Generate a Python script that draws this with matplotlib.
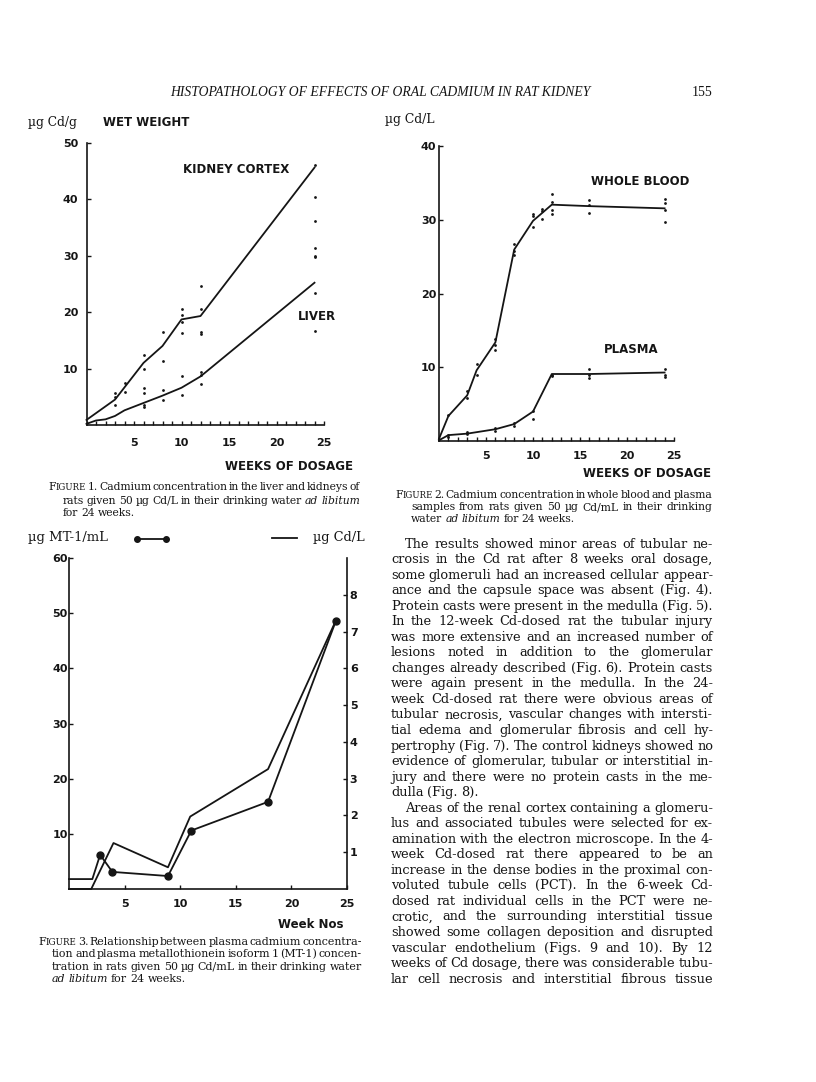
#!/usr/bin/env python3
import matplotlib
matplotlib.use("Agg")
import matplotlib.pyplot as plt
from matplotlib.lines import Line2D
from matplotlib.ticker import MultipleLocator

W, H = 816, 1082
SERIF = "DejaVu Serif"
SANS = "DejaVu Sans"
INK = "#151515"

# ---- Figure 1: Cd in kidney cortex and liver (ug Cd/g wet weight)
kidney_weeks = [0, 3, 6, 8, 10, 12, 24]
kidney_line = [0.9, 4.5, 11.0, 14.0, 18.7, 19.3, 45.6]
liver_weeks = [0, 1, 2, 3, 4, 6, 8, 10, 12, 24]
liver_line = [0.2, 0.8, 1.0, 1.6, 2.6, 3.9, 5.2, 6.6, 8.6, 25.2]
kidney_pt_weeks = [3, 3, 4, 4, 6, 6, 8, 8, 10, 10, 10, 10, 12, 12, 12, 12,
                   24, 24, 24, 24, 24, 24]
kidney_pt_vals = [5.6, 5.0, 7.4, 5.9, 12.4, 10.0, 16.5, 11.3, 20.6, 19.5, 18.3, 16.3,
                  24.6, 20.6, 16.5, 16.2, 46.1, 40.4, 36.1, 31.3, 30.0, 29.8]
liver_pt_weeks = [3, 6, 6, 6, 6, 8, 8, 10, 10, 12, 12, 12, 24, 24]
liver_pt_vals = [3.5, 6.5, 5.6, 3.5, 3.2, 6.2, 4.4, 8.7, 5.3, 9.4, 8.8, 7.3, 23.3, 16.7]

# ---- Figure 2: Cd in whole blood and plasma (ug Cd/L)
blood_weeks = [0, 1, 3, 4, 6, 8, 10, 11, 12, 16, 24]
blood_line = [0.3, 3.4, 6.2, 9.6, 13.4, 26.0, 29.9, 31.0, 32.1, 31.9, 31.6]
blood_pt_weeks = [1, 3, 3, 4, 4, 6, 6, 6, 8, 8, 8, 10, 10, 10, 11, 11, 11,
                  12, 12, 12, 12, 16, 16, 16, 24, 24, 24, 24]
blood_pt_vals = [3.5, 6.8, 5.9, 10.4, 9.0, 13.9, 13.1, 12.3, 26.8, 25.8, 25.3,
                 30.8, 30.5, 29.1, 31.5, 31.2, 30.2, 33.6, 32.4, 31.4, 30.8,
                 32.7, 32.1, 31.0, 32.9, 32.3, 31.4, 29.8]
plasma_weeks = [0, 1, 3, 6, 8, 10, 12, 16, 24]
plasma_line = [0.1, 0.8, 1.0, 1.6, 2.3, 4.0, 9.1, 9.1, 9.3]
plasma_pt_weeks = [1, 1, 3, 3, 6, 6, 8, 8, 10, 10, 12, 12, 16, 16, 16, 24, 24, 24]
plasma_pt_vals = [0.8, 0.6, 1.2, 0.9, 1.8, 1.4, 2.5, 2.1, 4.1, 3.0, 9.0, 8.8,
                  9.8, 9.0, 8.6, 9.8, 9.0, 8.7]

# ---- Figure 3: plasma MT-1 (ug/mL, left) and plasma Cd (ug/L, right)
mt_weeks = [0, 2.1, 2.8, 3.9, 8.9, 11.0, 17.9, 24.0]
mt_vals = [1.8, 1.8, 6.2, 3.1, 2.35, 10.6, 15.8, 48.6]
cd_weeks = [0, 2.0, 4.0, 8.9, 10.9, 17.9, 24.0]
cd_vals = [0, 0, 1.25, 0.59, 1.97, 3.26, 7.3]

fig1_xticks = [5, 10, 15, 20, 25]
fig1_yticks = [10, 20, 30, 40, 50]
fig2_yticks = [10, 20, 30, 40]
fig3_xticks = [5, 10, 15, 20, 25]
fig3_left_ticks = [10, 20, 30, 40, 50, 60]
fig3_right_ticks = [1, 2, 3, 4, 5, 6, 7, 8]

header = "HISTOPATHOLOGY OF EFFECTS OF ORAL CADMIUM IN RAT KIDNEY"
page_no = "155"

cap1 = ["^FIGURE 1. Cadmium concentration in the liver and kidneys of",
        "rats given 50 µg Cd/L in their drinking water *ad* *libitum*",
        "for 24 weeks."]
cap2 = ["^FIGURE 2. Cadmium concentration in whole blood and plasma",
        "samples from rats given 50 µg Cd/mL in their drinking",
        "water *ad* *libitum* for 24 weeks."]
cap3 = ["^FIGURE 3. Relationship between plasma cadmium concentra-",
        "tion and plasma metallothionein isoform 1 (MT-1) concen-",
        "tration in rats given 50 µg Cd/mL in their drinking water",
        "*ad* *libitum* for 24 weeks."]

body = [
    "The results showed minor areas of tubular ne-",
    "crosis in the Cd rat after 8 weeks oral dosage,",
    "some glomeruli had an increased cellular appear-",
    "ance and the capsule space was absent (Fig. 4).",
    "Protein casts were present in the medulla (Fig. 5).",
    "In the 12-week Cd-dosed rat the tubular injury",
    "was more extensive and an increased number of",
    "lesions noted in addition to the glomerular",
    "changes already described (Fig. 6). Protein casts",
    "were again present in the medulla. In the 24-",
    "week Cd-dosed rat there were obvious areas of",
    "tubular necrosis, vascular changes with intersti-",
    "tial edema and glomerular fibrosis and cell hy-",
    "pertrophy (Fig. 7). The control kidneys showed no",
    "evidence of glomerular, tubular or interstitial in-",
    "jury and there were no protein casts in the me-",
    "dulla (Fig. 8).",
    "Areas of the renal cortex containing a glomeru-",
    "lus and associated tubules were selected for ex-",
    "amination with the electron microscope. In the 4-",
    "week Cd-dosed rat there appeared to be an",
    "increase in the dense bodies in the proximal con-",
    "voluted tubule cells (PCT). In the 6-week Cd-",
    "dosed rat individual cells in the PCT were ne-",
    "crotic, and the surrounding interstitial tissue",
    "showed some collagen deposition and disrupted",
    "vascular endothelium (Figs. 9 and 10). By 12",
    "weeks of Cd dosage, there was considerable tubu-",
    "lar cell necrosis and interstitial fibrous tissue",
]
body_indent = [0, 17]
body_ragged = [16]

plt.rcParams["font.family"] = [SERIF]
plt.rcParams["text.color"] = INK
plt.rcParams["axes.edgecolor"] = INK
plt.rcParams["xtick.color"] = INK
plt.rcParams["ytick.color"] = INK

fig = plt.figure(figsize=(W / 100, H / 100), dpi=100)
fig.patch.set_facecolor("white")
renderer = fig.canvas.get_renderer()


def fx(x):
    return x / W


def fy(y):
    return 1 - y / H


def axes_px(left, top, right, bottom):
    return fig.add_axes([fx(left), fy(bottom), (right - left) / W, (bottom - top) / H])


def split_words(line):
    out = []
    for tok in line.split():
        if tok.startswith("^"):
            out.append([(tok[1], 1.0, "normal"), (tok[2:], 0.8, "normal")])
        elif tok.startswith("*") and tok.endswith("*"):
            out.append([(tok[1:-1], 1.0, "italic")])
        else:
            out.append([(tok, 1.0, "normal")])
    return out


def word_width(segs, size):
    w = 0
    for s, k, st in segs:
        t = fig.text(0, 0, s, fontsize=size * k, style=st, family=SERIF)
        w += t.get_window_extent(renderer).width
        t.remove()
    return w


def fit_size(lines, starts, x1, ragged, base=10.0, min_space=0.22):
    # biggest font size at which every justified line still gets a fair space
    best = 30.0
    for i, line in enumerate(lines):
        if i in ragged:
            continue
        words = split_words(line)
        total = sum(word_width(w, base) for w in words)
        n = len(words) - 1
        em = base * 100 / 72
        need = total + n * min_space * em
        best = min(best, base * (x1 - starts[i]) / need)
    return best


def put_line(line, x0, x1, y, size, justify=True):
    # y is the baseline in pixels from the top
    placed = []
    for segs in split_words(line):
        arts, width = [], 0
        for s, k, st in segs:
            t = fig.text(0, 0, s, fontsize=size * k, style=st, family=SERIF,
                         ha="left", va="baseline")
            arts.append((t, width))
            width += t.get_window_extent(renderer).width
        placed.append((arts, width))
    total = sum(w for _, w in placed)
    if justify and len(placed) > 1:
        gap = (x1 - x0 - total) / (len(placed) - 1)
    else:
        gap = size * 100 / 72 * 0.28
    x = x0
    for arts, w in placed:
        for t, off in arts:
            t.set_position((fx(x + off), fy(y)))
        x += w + gap


def put_block(lines, first_x, rest_x, x1, y0, step, indent=None, ragged=None,
              size=None, min_space=0.22):
    if indent is None:
        indent = [0]
    ragged = [len(lines) - 1] if ragged is None else ragged
    starts = [first_x if i in indent else rest_x for i in range(len(lines))]
    fitted = fit_size(lines, starts, x1, ragged, min_space=min_space)
    size = fitted if size is None else min(size, fitted)
    for i, line in enumerate(lines):
        put_line(line, starts[i], x1, y0 + i * step, size, justify=i not in ragged)
    return size


def fit_text(s, x0, x1, y, **kw):
    t = fig.text(fx(x0), fy(y), s, fontsize=10, ha="left", va="baseline", **kw)
    w = t.get_window_extent(renderer).width
    t.set_fontsize(10 * (x1 - x0) / w)
    return t


def sans(ax, x, y, s, size=8.5):
    ax.text(x, y, s, family=SANS, weight="bold", fontsize=size, ha="left", va="center")


def style_ticks(ax):
    for lab in ax.get_xticklabels() + ax.get_yticklabels():
        lab.set_family(SANS)
        lab.set_weight("bold")
        lab.set_fontsize(8)


# ---------- body text column (sets the running text size)
body_size = put_block(body, 405, 391, 713, 547.5, 15.54,
                      indent=body_indent, ragged=body_ragged)
cap_size = body_size * 0.92

# ---------- page header
fit_text(header, 170, 591, 96, style="italic", family="Liberation Serif")
fig.text(fx(692), fy(96), page_no, fontsize=10, family="Liberation Serif", va="baseline")

# ---------- Figure 1
ax1 = axes_px(86.5, 142.7, 324, 425)
ax1.plot(kidney_weeks, kidney_line, color=INK, lw=1.3, clip_on=False)
ax1.plot(liver_weeks, liver_line, color=INK, lw=1.3, clip_on=False)
ax1.scatter(kidney_pt_weeks, kidney_pt_vals, s=4, color=INK, lw=0, clip_on=False)
ax1.scatter(liver_pt_weeks, liver_pt_vals, s=4, color=INK, lw=0, clip_on=False)
ax1.set_xlim(0, 25)
ax1.set_ylim(0, 50)
ax1.set_xticks(fig1_xticks)
ax1.set_yticks(fig1_yticks)
ax1.xaxis.set_minor_locator(MultipleLocator(1))
ax1.tick_params(which="both", direction="in", length=3, width=1)
ax1.tick_params(axis="x", pad=9)
ax1.tick_params(axis="y", pad=6)
for sp in ("top", "right"):
    ax1.spines[sp].set_visible(False)
for sp in ("left", "bottom"):
    ax1.spines[sp].set_linewidth(1.2)
style_ticks(ax1)
sans(ax1, 10.2, 45.3, "KIDNEY CORTEX")
sans(ax1, 22.2, 19.3, "LIVER")
fit_text("µg Cd/g", 28, 77, 126, family=SERIF)
fig.text(fx(103), fy(125.5), "WET WEIGHT", fontsize=8.5, family=SANS,
         weight="bold", va="baseline")
fig.text(fx(225), fy(470), "WEEKS OF DOSAGE", fontsize=8.5, family=SANS,
         weight="bold", va="baseline")
put_block(cap1, 48, 63, 360, 490.5, 13, size=cap_size, min_space=0.1)

# ---------- Figure 2
ax2 = axes_px(439, 146.5, 674, 441)
ax2.plot(blood_weeks, blood_line, color=INK, lw=1.3, clip_on=False)
ax2.plot(plasma_weeks, plasma_line, color=INK, lw=1.3, clip_on=False)
ax2.scatter(blood_pt_weeks, blood_pt_vals, s=4, color=INK, lw=0, clip_on=False)
ax2.scatter(plasma_pt_weeks, plasma_pt_vals, s=4, color=INK, lw=0, clip_on=False)
ax2.set_xlim(0, 25)
ax2.set_ylim(0, 40)
ax2.set_xticks(fig1_xticks)
ax2.set_yticks(fig2_yticks)
ax2.xaxis.set_minor_locator(MultipleLocator(1))
ax2.tick_params(which="both", direction="in", length=3, width=1)
ax2.tick_params(axis="x", pad=7)
ax2.tick_params(axis="y", pad=2)
for sp in ("top", "right"):
    ax2.spines[sp].set_visible(False)
for sp in ("left", "bottom"):
    ax2.spines[sp].set_linewidth(1.2)
style_ticks(ax2)
sans(ax2, 16.2, 35.2, "WHOLE BLOOD")
sans(ax2, 17.55, 12.4, "PLASMA")
fit_text("µg Cd/L", 385, 435, 122.5, family=SERIF)
fig.text(fx(583), fy(477), "WEEKS OF DOSAGE", fontsize=8.5, family=SANS,
         weight="bold", va="baseline")
put_block(cap2, 395, 411, 712, 498.5, 11.8, size=cap_size, min_space=0.1)

# ---------- Figure 3
ax3 = axes_px(69, 558, 347, 889)
ax3r = ax3.twinx()
ax3.plot(mt_weeks, mt_vals, color=INK, lw=1.3, marker="o", ms=5,
         markevery=list(range(2, len(mt_weeks))), clip_on=False)
ax3r.plot(cd_weeks, cd_vals, color=INK, lw=1.3, clip_on=False)
ax3.set_xlim(0, 25)
ax3.set_ylim(0, 60)
ax3r.set_ylim(0, 9)
ax3.set_xticks(fig3_xticks)
ax3.set_yticks(fig3_left_ticks)
ax3r.set_yticks(fig3_right_ticks)
ax3.tick_params(direction="in", length=3, width=1)
ax3.tick_params(axis="x", pad=7)
ax3.tick_params(axis="y", pad=1)
ax3r.tick_params(direction="in", length=3, width=1, pad=2)
ax3.spines["top"].set_visible(False)
ax3.spines["right"].set_visible(False)
for sp in ("top", "left", "bottom"):
    ax3r.spines[sp].set_visible(False)
for sp in ("left", "bottom"):
    ax3.spines[sp].set_linewidth(1.2)
ax3r.spines["right"].set_linewidth(1.2)
style_ticks(ax3)
style_ticks(ax3r)
fit_text("µg MT-1/mL", 28, 108, 541.5, family=SERIF)
fit_text("µg Cd/L", 313, 365, 541.5, family=SERIF)
fig.add_artist(Line2D([fx(137), fx(166)], [fy(539), fy(539)], color=INK, lw=1.3,
                      marker="o", ms=4, transform=fig.transFigure))
fig.add_artist(Line2D([fx(272), fx(297)], [fy(538), fy(538)], color=INK, lw=1.3,
                      transform=fig.transFigure))
fig.text(fx(278), fy(928), "Week Nos", fontsize=8.5, family=SANS,
         weight="bold", va="baseline")
put_block(cap3, 38, 52, 362, 945, 12.3, size=cap_size, min_space=0.1)

fig.savefig("out.png", dpi=100, facecolor="white")
